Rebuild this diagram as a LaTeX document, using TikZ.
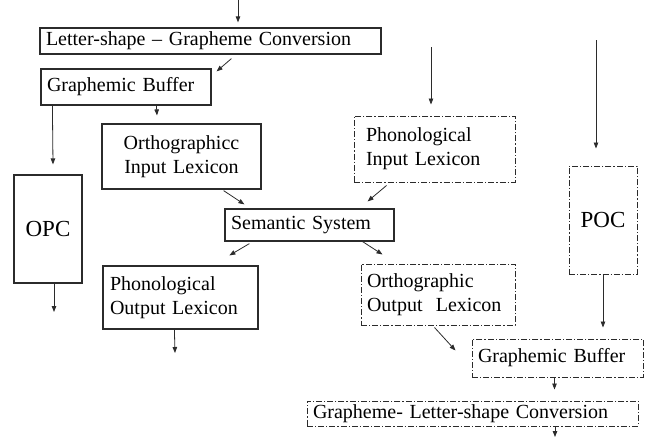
\documentclass[tikz,border=0pt]{standalone}
\usepackage{fontspec}
\setmainfont{Liberation Serif}
\usetikzlibrary{positioning,arrows.meta,calc}
\definecolor{tinta}{HTML}{2b2b2b}

\begin{document}
\begin{tikzpicture}[
  x=1pt, y=-1pt,
  font=\fontsize{20}{24}\selectfont,
  caixa/.style={draw=tinta, line width=1.2pt, inner xsep=6pt, inner ysep=0pt, align=left},
  caixapt/.style={caixa, line width=1pt, dash pattern=on 6pt off 2pt on 1.2pt off 2pt},
  seta/.style={-{Triangle[length=6pt,width=4.5pt]}, line width=0.8pt, draw=tinta}]
\useasboundingbox (0,0) rectangle (648,442);
% lado esquerdo (leitura)
\node[caixa, minimum width=341pt, minimum height=26pt, text width=329pt] (conv1) at (210.5,41) {Letter-shape -- Grapheme Conversion};
\node[caixa, minimum width=170pt, minimum height=36pt, text width=158pt] (buf1) at (126,87) {Graphemic Buffer};
\node[caixa, minimum width=159pt, minimum height=65pt, text width=147pt, align=center] (ortin) at (181.5,156.5) {Orthographicc\\Input Lexicon};
\node[caixa, minimum width=68pt, minimum height=108pt, align=center, font=\fontsize{23}{26}\selectfont] (opc) at (48,229) {OPC};
\node[caixa, minimum width=169pt, minimum height=32pt, text width=157pt] (sem) at (309.5,225) {Semantic System};
\node[caixa, minimum width=155pt, minimum height=63pt, text width=141pt, inner xsep=7pt] (phout) at (180.5,297.5) {Phonological\\Output Lexicon};
% lado direito (escrita)
\node[caixapt, minimum width=161pt, minimum height=66pt, text width=137pt, inner xsep=12pt] (phin) at (434.5,149) {Phonological\\Input Lexicon};
\node[caixapt, minimum width=68pt, minimum height=108pt, align=center, font=\fontsize{23}{26}\selectfont] (poc) at (603,220) {POC};
\node[caixapt, minimum width=154pt, minimum height=61pt, text width=142pt] (ortout) at (438,294.5) {Orthographic\\Output\ \ Lexicon};
\node[caixapt, minimum width=171pt, minimum height=38pt, text width=159pt] (buf2) at (557.5,358) {Graphemic Buffer};
\node[caixapt, minimum width=331pt, minimum height=25pt, text width=319pt] (conv2) at (472.5,413.5) {Grapheme- Letter-shape Conversion};
% entradas e saidas
\coordinate (ent1) at (238,0);
\coordinate (ent2) at (431,47);
\coordinate (ent3) at (596,40);
\coordinate (sai1) at (54,312);
\coordinate (sai2) at (175,353);
\coordinate (sai3) at (555,437);
% setas
\draw[seta] (ent1) -- ($(ent1|-conv1.north)+(0,-5)$);
\draw[seta] ($(conv1.south west)+(192,4)$) -- ($(buf1.north east)+(5,3)$);
\draw[seta] ($(buf1.south west)+(12,0)$) -- ($(opc.north)+(5,-10)$);
\draw[seta] ($(buf1.south west)+(116,0)$) -- ($(ortin.north)+(-24.5,-8)$);
\draw[seta] ($(opc.south)+(6,0)$) -- (sai1);
\draw[seta] ($(ortin.south east)+(-38,1)$) -- ($(sem.north west)+(20,-4)$);
\draw[seta] ($(sem.south west)+(25,2)$) -- ($(phout.north west)+(127,-10)$);
\draw[seta] ($(sem.south east)+(-32,0)$) -- ($(ortout.north west)+(22,-9)$);
\draw[seta] ($(phout.south west)+(72,0)$) -- (sai2);
\draw[seta] (ent2) -- ($(ent2|-phin.north)+(0,-11)$);
\draw[seta] ($(phin.south west)+(33,3)$) -- ($(sem.north east)+(-27,-7)$);
\draw[seta] (ent3) -- ($(ent3|-poc.north)+(0,-17)$);
\draw[seta] (poc.south) -- ($(poc.south|-buf2.north)+(0,-11)$);
\draw[seta] ($(ortout.south west)+(74,2)$) -- ($(buf2.north west)+(-16,12)$);
\draw[seta] ($(buf2.south west)+(83,0)$) -- ($(buf2.south west|-conv2.north)+(83,-11)$);
\draw[seta] (sai3|-conv2.south) -- (sai3);
\end{tikzpicture}
\end{document}
